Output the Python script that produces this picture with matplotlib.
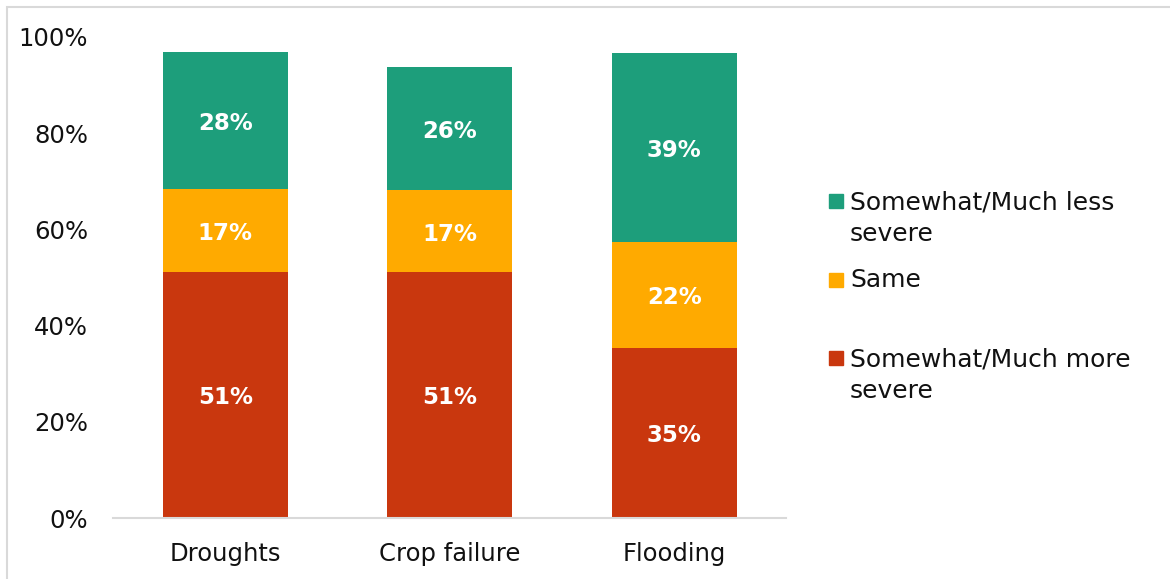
import matplotlib
matplotlib.use("Agg")
import matplotlib.pyplot as plt
from matplotlib.patches import Rectangle

plt.rcParams['font.family'] = ['DejaVu Sans']

categories = ["Droughts", "Crop failure", "Flooding"]
series_names = ["Somewhat/Much more\nsevere", "Same", "Somewhat/Much less\nsevere"]
more_severe = [51.1, 51.1, 35.3]
same = [17.3, 17.0, 22.1]
less_severe = [28.4, 25.6, 39.2]
series_values = [more_severe, same, less_severe]
colors = ["#C9370E", "#FFAA00", "#1D9E7B"]
y_ticks = [0, 20, 40, 60, 80, 100]

W, H = 1170, 579
fig = plt.figure(figsize=(W / 100, H / 100), dpi=100)
ax = fig.add_axes([113 / W, 1 - 518 / H, (786.5 - 113) / W, (518 - 37) / H])

x = range(len(categories))
bottom = [0.0] * len(categories)
for vals, col in zip(series_values, colors):
    bars = ax.bar(x, vals, width=0.556, bottom=bottom, color=col, edgecolor="none")
    for b, v, b0 in zip(bars, vals, bottom):
        ax.text(b.get_x() + b.get_width() / 2, b0 + v / 2 - 0.6, f"{round(v)}%",
                ha="center", va="center", color="white", fontsize=16.5, fontweight="bold")
    bottom = [a + v for a, v in zip(bottom, vals)]

ax.set_xlim(-0.5, len(categories) - 0.5)
ax.set_ylim(0, 100)
ax.set_yticks(y_ticks)
ax.set_yticklabels([f"{t}%" for t in y_ticks])
ax.set_xticks(list(x))
ax.set_xticklabels(categories)
ax.tick_params(axis="both", length=0, labelsize=17.5, colors="#111111")
ax.tick_params(axis="y", pad=18)
ax.tick_params(axis="x", pad=17)
for s in ["left", "right", "top"]:
    ax.spines[s].set_visible(False)
ax.spines["bottom"].set_color("#D9D9D9")
ax.spines["bottom"].set_linewidth(1.5)

# legend, top entry first
legend_rows = [(series_names[2], colors[2], 201.5, 218),
               (series_names[1], colors[1], 280, 280),
               (series_names[0], colors[0], 358, 375)]
for label, col, y_marker, y_text in legend_rows:
    fig.add_artist(Rectangle((829 / W, 1 - (y_marker + 7) / H), 14 / W, 14 / H,
                             transform=fig.transFigure, color=col))
    fig.text(850 / W, 1 - y_text / H, label, ha="left", va="center",
             fontsize=18, color="#111111", linespacing=1.42)

# chart frame
fig.add_artist(Rectangle((6.5 / W, -0.5), 2.0, 1 - 6.5 / H + 0.5,
                         transform=fig.transFigure, fill=False,
                         edgecolor="#D9D9D9", linewidth=1.5))

fig.savefig("out.png", dpi=100)
